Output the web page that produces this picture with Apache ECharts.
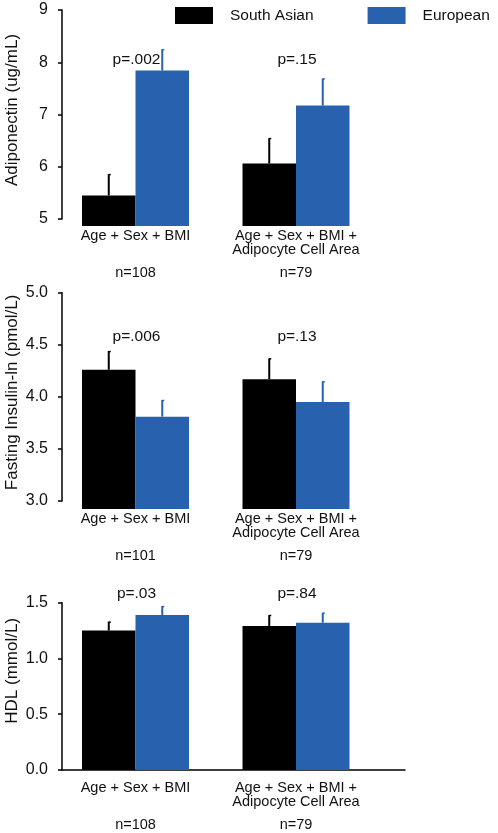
<!DOCTYPE html>
<html><head><meta charset="utf-8">
<script src="https://cdn.jsdelivr.net/npm/echarts@6/dist/echarts.min.js"></script>
<style>html,body{margin:0;padding:0;background:#fff}#c{width:498px;height:833px}</style>
</head><body><div id="c"></div>
<script>
// ---- data ----
const categories = ['Age + Sex + BMI', 'Age + Sex + BMI +\nAdipocyte Cell Area'];
const seriesNames = ['South Asian', 'European'];

const adipoTicks = [5, 6, 7, 8, 9];
const adipoSA = [5.45, 6.06];
const adipoSAErr = [0.41, 0.49];
const adipoEU = [7.84, 7.17];
const adipoEUErr = [0.41, 0.52];
const adipoP = ['p=.002', 'p=.15'];
const adipoN = ['n=108', 'n=79'];

const insulinTicks = [3.0, 3.5, 4.0, 4.5, 5.0];
const insulinSA = [4.26, 4.17];
const insulinSAErr = [0.18, 0.20];
const insulinEU = [3.81, 3.95];
const insulinEUErr = [0.16, 0.20];
const insulinP = ['p=.006', 'p=.13'];
const insulinN = ['n=101', 'n=79'];

const hdlTicks = [0.0, 0.5, 1.0, 1.5];
const hdlSA = [1.25, 1.29];
const hdlSAErr = [0.08, 0.10];
const hdlEU = [1.39, 1.32];
const hdlEUErr = [0.08, 0.09];
const hdlP = ['p=.03', 'p=.84'];
const hdlN = ['n=108', 'n=79'];

// ---- layout / style ----
const FONT = 'Liberation Sans, Arial, sans-serif';
const BLACK = '#000000';
const BLUE = '#2862ae';

const panels = [
  { title: 'Adiponectin (ug/mL)', ticks: adipoTicks, dec: 0, sa: adipoSA, saErr: adipoSAErr, eu: adipoEU, euErr: adipoEUErr, p: adipoP, n: adipoN,
    top: 10, axisH: 209, barH: 216, pAt: 8.04, labelMargin: 3, namePad: 9, xLine: false },
  { title: 'Fasting Insulin-ln (pmol/L)', ticks: insulinTicks, dec: 1, sa: insulinSA, saErr: insulinSAErr, eu: insulinEU, euErr: insulinEUErr, p: insulinP, n: insulinN,
    top: 292.7, axisH: 208.3, barH: 216.3, pAt: 4.58, labelMargin: 3.3, namePad: 9, xLine: false },
  { title: 'HDL (mmol/L)', ticks: hdlTicks, dec: 1, sa: hdlSA, saErr: hdlSAErr, eu: hdlEU, euErr: hdlEUErr, p: hdlP, n: hdlN,
    top: 602.7, axisH: 167.3, barH: 167.3, pAt: 1.584, labelMargin: 11.3, namePad: 31, xLine: true }
];

const grid = [], xAxis = [], yAxis = [], series = [];

function errSeries(axisIdx, vals, errs, dir, color) {
  return {
    type: 'custom', xAxisIndex: axisIdx, yAxisIndex: axisIdx, silent: true, z: 5,
    data: vals.map((v, i) => [i, v, errs[i]]),
    renderItem: function (params, api) {
      const idx = api.value(0), v = api.value(1), e = api.value(2);
      const base = api.coord([idx, v]);
      const top = api.coord([idx, v + e]);
      const band = api.size([1, 0])[0];
      const x = base[0] + dir * band / 6;
      return { type: 'group', children: [
        { type: 'line', shape: { x1: x, y1: base[1], x2: x, y2: top[1] }, style: { stroke: color, lineWidth: 2 } },
        { type: 'line', shape: { x1: x, y1: top[1] + 0.5, x2: x + 2, y2: top[1] + 0.5 }, style: { stroke: color, lineWidth: 1.5 } }
      ]};
    }
  };
}

panels.forEach((p, k) => {
  const a = 2 * k, b = 2 * k + 1;
  const tmin = p.ticks[0], tmax = p.ticks[p.ticks.length - 1];
  const step = p.ticks[1] - p.ticks[0];
  grid.push({ left: 62, top: p.top, width: 343, height: p.axisH, containLabel: false, outerBoundsMode: 'none' });
  grid.push({ left: 55.25, top: p.top, width: 321, height: p.barH, containLabel: false, outerBoundsMode: 'none' });
  // visible axes grid
  xAxis.push({ type: 'category', gridIndex: a, data: categories, boundaryGap: true,
    axisLine: { show: p.xLine, lineStyle: { color: BLACK, width: 1.5 } },
    axisTick: { show: false }, axisLabel: { show: false }, splitLine: { show: false } });
  yAxis.push({ type: 'value', gridIndex: a, min: tmin, max: tmax, interval: step,
    name: p.title, nameLocation: 'middle', nameGap: 41, nameMoveOverlap: false,
    nameTextStyle: { fontFamily: FONT, fontSize: 17, color: '#111', padding: [0, 0, 0, p.namePad] },
    axisLine: { show: true, lineStyle: { color: BLACK, width: 1.5 } },
    axisTick: { show: true, length: 4, lineStyle: { color: BLACK, width: 1.5 } },
    axisLabel: { fontFamily: FONT, fontSize: 16, color: '#111', margin: 14,
      formatter: v => v.toFixed(p.dec) },
    splitLine: { show: false } });
  // bar grid
  const nArr = p.n;
  xAxis.push({ type: 'category', gridIndex: b, data: categories,
    axisLine: { show: false }, axisTick: { show: false }, splitLine: { show: false },
    axisLabel: { interval: 0, margin: p.labelMargin, color: '#111',
      formatter: function (value, index) {
        const lines = value.split('\n');
        if (lines.length < 2) lines.push(' ');
        return lines.map(l => '{a|' + l + '}').join('\n') + '\n{n|' + nArr[index] + '}';
      },
      rich: {
        a: { fontFamily: FONT, fontSize: 14.5, lineHeight: 14, color: '#111' },
        n: { fontFamily: FONT, fontSize: 14.5, lineHeight: 31, color: '#111' }
      } } });
  const barMin = tmax - (p.barH / p.axisH) * (tmax - tmin);
  yAxis.push({ type: 'value', gridIndex: b, min: barMin, max: tmax, show: false, splitLine: { show: false } });

  series.push({ type: 'bar', name: seriesNames[0], xAxisIndex: b, yAxisIndex: b, data: p.sa,
    barWidth: '33.33%', barGap: '0%', itemStyle: { color: BLACK }, silent: true });
  series.push({ type: 'bar', name: seriesNames[1], xAxisIndex: b, yAxisIndex: b, data: p.eu,
    barWidth: '33.33%', barGap: '0%', itemStyle: { color: BLUE }, silent: true });
  series.push(errSeries(b, p.sa, p.saErr, -1, BLACK));
  series.push(errSeries(b, p.eu, p.euErr, 1, BLUE));
  const pArr = p.p;
  series.push({
    type: 'custom', xAxisIndex: b, yAxisIndex: b, silent: true, z: 6,
    data: pArr.map((t, i) => [i, p.pAt]),
    renderItem: function (params, api) {
      const c = api.coord([api.value(0), api.value(1)]);
      return { type: 'text', x: c[0] + 1, y: c[1],
        style: { text: pArr[params.dataIndex], fontFamily: FONT, fontSize: 15.5, fill: '#111',
          align: 'center', verticalAlign: 'middle' } };
    }
  });
});

const chart = echarts.init(document.getElementById('c'), null, { renderer: 'canvas' });
chart.setOption({
  animation: false,
  backgroundColor: '#ffffff',
  legend: {
    data: seriesNames.map(n => ({ name: n, icon: 'rect' })),
    left: 175, top: 7, padding: 0, itemWidth: 38, itemHeight: 17, itemGap: 54,
    selectedMode: false,
    textStyle: { fontFamily: FONT, fontSize: 15.5, color: '#111', padding: [0, 0, 0, 12] }
  },
  grid: grid, xAxis: xAxis, yAxis: yAxis, series: series
});
</script>
</body></html>
